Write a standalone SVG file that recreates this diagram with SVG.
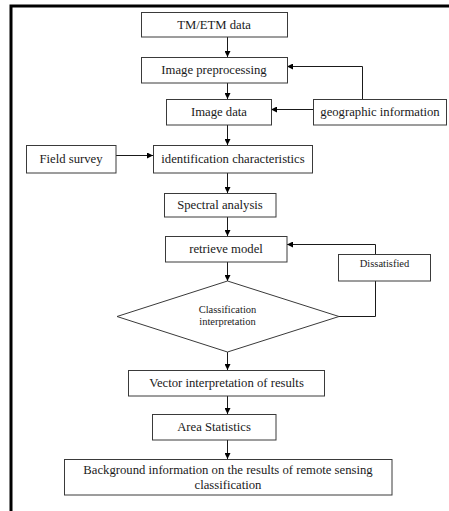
<svg xmlns="http://www.w3.org/2000/svg" width="449" height="511" viewBox="0 0 449 511">
<style>
.box{fill:#fff;stroke:#3a3a3a;stroke-width:1}
.t{font-family:"Liberation Serif","Times New Roman",serif;font-size:12.7px;fill:#1a1a1a;text-anchor:middle}
.s{font-size:10.5px}
.c{fill:none;stroke:#1a1a1a;stroke-width:1}
.frame{stroke:#000;stroke-width:3;fill:none}
</style>
<defs>
<marker id="ah" viewBox="0 0 10 10" refX="10" refY="5" markerWidth="6" markerHeight="6" markerUnits="userSpaceOnUse" orient="auto">
<path d="M0,0 L10,5 L0,10 z" fill="#000"/>
</marker>
</defs>
<rect width="449" height="511" fill="#fff"/>
<g id="frame">
<path class="frame" d="M9.5,6 H449 M11,4.5 V511"/>
</g>
<g id="connectors">
<path class="c" d="M227.5,37 V57" marker-end="url(#ah)"/>
<path class="c" d="M227.5,83 V99" marker-end="url(#ah)"/>
<path class="c" d="M313,109.5 H271" marker-end="url(#ah)"/>
<path class="c" d="M362.5,99 V66.5 H287" marker-end="url(#ah)"/>
<path class="c" d="M227.5,125 V145" marker-end="url(#ah)"/>
<path class="c" d="M116,155.5 H153" marker-end="url(#ah)"/>
<path class="c" d="M227.5,173 V193" marker-end="url(#ah)"/>
<path class="c" d="M227.5,217 V236" marker-end="url(#ah)"/>
<path class="c" d="M227.5,262 V281" marker-end="url(#ah)"/>
<path class="c" d="M339,316.5 H375.5 V281"/>
<path class="c" d="M375.5,254 V244.5 H287" marker-end="url(#ah)"/>
<path class="c" d="M227.5,352 V370" marker-end="url(#ah)"/>
<path class="c" d="M227.5,396 V414" marker-end="url(#ah)"/>
<path class="c" d="M227.5,440 V459" marker-end="url(#ah)"/>
</g>
<g id="tm"><rect class="box" x="141.5" y="12.5" width="146" height="24.5"/><text class="t" x="214" y="29">TM/ETM data</text></g>
<g id="preprocessing"><rect class="box" x="141.5" y="57.5" width="146" height="25.5"/><text class="t" x="214" y="74">Image preprocessing</text></g>
<g id="imagedata"><rect class="box" x="166.5" y="99.5" width="105" height="25.5"/><text class="t" x="219" y="116">Image data</text></g>
<g id="geo"><rect class="box" x="313.5" y="99.5" width="133" height="25.5"/><text class="t" x="380" y="116">geographic information</text></g>
<g id="field"><rect class="box" x="26.5" y="145.5" width="89.5" height="27.5"/><text class="t" x="71" y="163">Field survey</text></g>
<g id="ident"><rect class="box" x="153.5" y="145.5" width="159" height="27.5"/><text class="t" x="233" y="163">identification  characteristics</text></g>
<g id="spectral"><rect class="box" x="164.5" y="193.5" width="111.5" height="23.5"/><text class="t" x="220" y="209">Spectral analysis</text></g>
<g id="retrieve"><rect class="box" x="165.5" y="236.5" width="121.5" height="25.5"/><text class="t" x="226" y="253">retrieve  model</text></g>
<g id="dissatisfied"><rect class="box" x="338.5" y="254.5" width="92" height="26.5"/><text class="t s" x="384.5" y="267">Dissatisfied</text></g>
<g id="classification"><path class="box" d="M227.5,281 L339,316.5 L227.5,352 L117,316.5 Z"/><text class="t s" x="227.5" y="313">Classification</text><text class="t s" x="227.5" y="325">interpretation</text></g>
<g id="vector"><rect class="box" x="128.5" y="370.5" width="196" height="25.5"/><text class="t" x="226.5" y="387">Vector interpretation  of results</text></g>
<g id="area"><rect class="box" x="152.5" y="414.5" width="123.5" height="25.5"/><text class="t" x="214" y="431">Area Statistics</text></g>
<g id="background"><rect class="box" x="64.5" y="459.5" width="327.5" height="35.5"/><text class="t" x="228" y="474">Background information  on the results  of remote sensing</text><text class="t" x="228" y="489">classification</text></g>
</svg>
